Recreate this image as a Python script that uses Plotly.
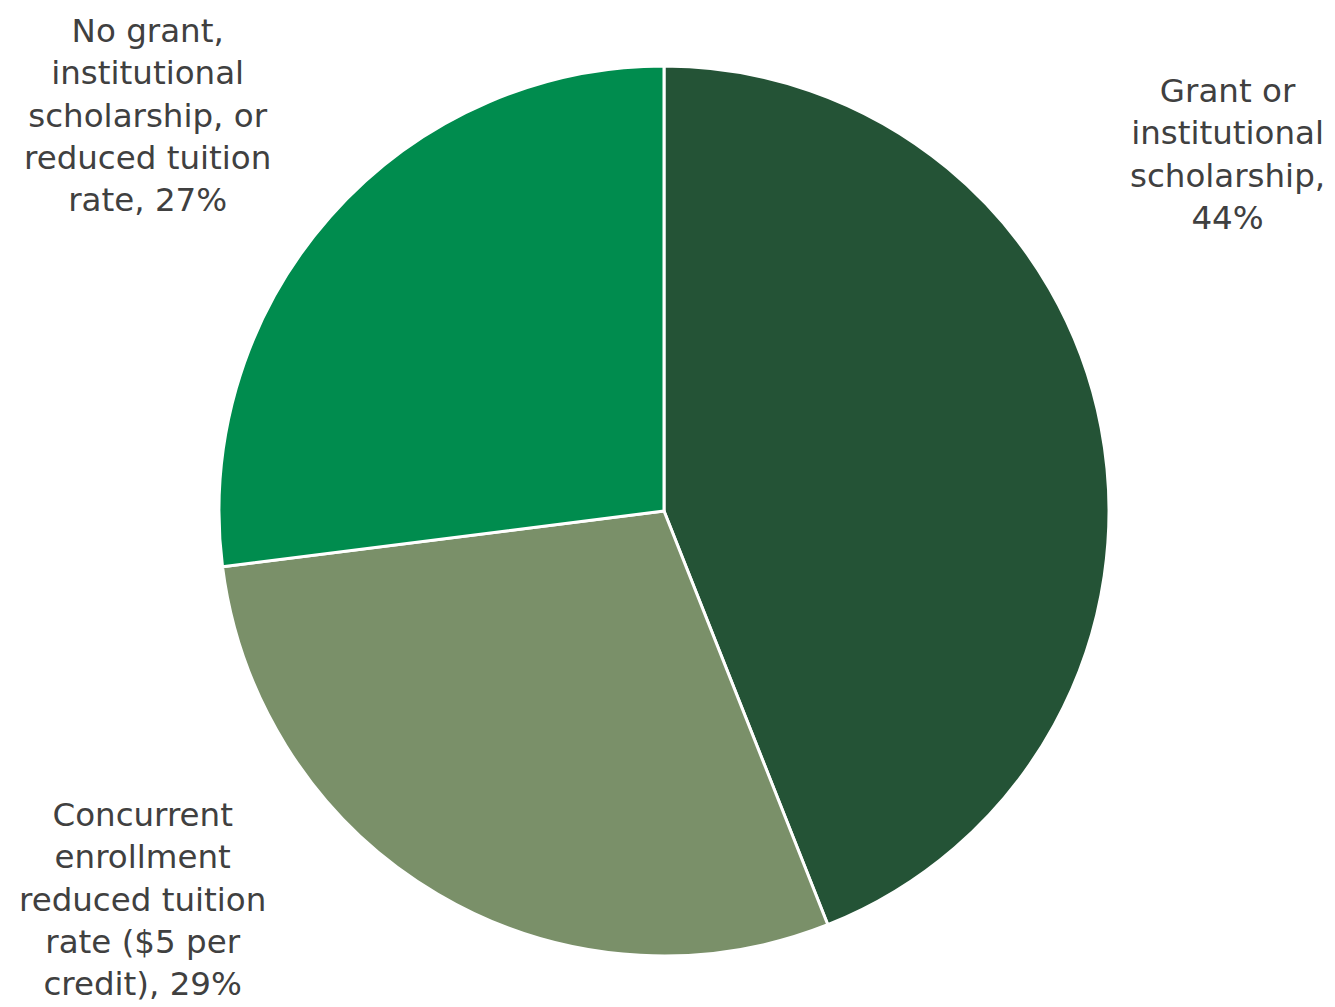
import plotly.graph_objects as go

categories = [
    "Grant or institutional scholarship",
    "Concurrent enrollment reduced tuition rate ($5 per credit)",
    "No grant, institutional scholarship, or reduced tuition rate",
]
label_lines = [
    "Grant or<br>institutional<br>scholarship,",
    "Concurrent<br>enrollment<br>reduced tuition<br>rate ($5 per<br>credit),",
    "No grant,<br>institutional<br>scholarship, or<br>reduced tuition<br>rate,",
]
label_sep = ["<br>", " ", " "]
values = [44, 29, 27]
colors = ["#245336", "#7A9069", "#008C4E"]

# page positions of label centres
label_pos = [(1227, 154), (142, 899), (147, 115)]

W, H = 1335, 1007
OFF = 8  # page body margin
cx, cy, r = 664 - OFF, 511 - OFF, 445

fig = go.Figure(go.Pie(
    labels=categories,
    values=values,
    sort=False,
    direction="clockwise",
    rotation=0,
    marker=dict(colors=colors, line=dict(color="white", width=3)),
    textinfo="none",
    hoverinfo="label+percent",
    showlegend=False,
    domain=dict(x=[(cx - r) / W, (cx + r) / W],
                y=[(H - cy - r) / H, (H - cy + r) / H]),
))

font_family = "DejaVu Sans, sans-serif"
for txt, sep, v, (px, py) in zip(label_lines, label_sep, values, label_pos):
    fig.add_annotation(
        text=f"{txt}{sep}{v}%",
        x=(px - OFF) / W, y=1 - (py - OFF) / H, xref="paper", yref="paper",
        xanchor="center", yanchor="middle", showarrow=False,
        align="center",
        font=dict(family=font_family, size=32.5, color="#404040"),
    )

fig.update_layout(
    width=W, height=H,
    margin=dict(l=0, r=0, t=0, b=0),
    paper_bgcolor="white",
    plot_bgcolor="white",
)

fig.write_html("out.html")
